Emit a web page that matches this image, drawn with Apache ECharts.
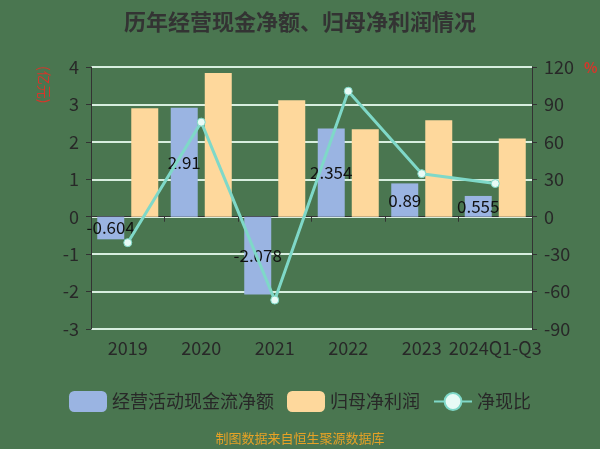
<!DOCTYPE html>
<html>
<head>
<meta charset="utf-8">
<script src="https://cdn.jsdelivr.net/npm/echarts@6/dist/echarts.min.js"></script>
<style>
html, body { margin: 0; padding: 0; background: #4a7650; }
#chart { width: 600px; height: 449px; }
</style>
</head>
<body>
<div id="chart"></div>
<script>
// 数据
var years = ['2019', '2020', '2021', '2022', '2023', '2024Q1-Q3'];
var cashFlow = [-0.604, 2.91, -2.078, 2.354, 0.89, 0.555];   // 经营活动现金流净额(亿元)
var netProfit = [2.90, 3.84, 3.11, 2.34, 2.58, 2.09];         // 归母净利润(亿元)
var ratio = [-20.8, 75.8, -66.8, 100.6, 34.5, 26.6];          // 净现比(%)

var font = '"Noto Sans CJK SC", "Noto Sans", sans-serif';
var dark = '#282828';
var chart = echarts.init(document.getElementById('chart'));

var option = {
	backgroundColor: '#4a7650',
	title: {
		text: '历年经营现金净额、归母净利润情况',
		left: 'center',
		top: 6,
		textStyle: { color: '#333', fontSize: 22, fontWeight: 'bold', fontFamily: font }
	},
	legend: {
		bottom: 32,
		left: 'center',
		itemWidth: 38,
		itemHeight: 21,
		itemGap: 13,
		textStyle: { color: dark, fontSize: 18, fontFamily: font },
		data: [
			{ name: '经营活动现金流净额', icon: 'roundRect' },
			{ name: '归母净利润', icon: 'roundRect' },
			{ name: '净现比' }
		]
	},
	grid: { left: 91, right: 68, top: 67, bottom: 120 },
	xAxis: {
		type: 'category',
		data: years,
		axisLine: { onZero: true, lineStyle: { color: '#333', width: 1 } },
		axisTick: { show: true, length: 5, lineStyle: { color: '#333' } },
		axisLabel: { interval: 0, margin: 10, color: dark, fontSize: 18, fontFamily: font }
	},
	yAxis: [{
		type: 'value',
		min: -3, max: 4, interval: 1,
		axisLine: { show: true, lineStyle: { color: '#333' } },
		axisTick: { show: true, length: 5, lineStyle: { color: '#333' } },
		axisLabel: { margin: 12, color: dark, fontSize: 18, fontFamily: font },
		splitLine: { lineStyle: { color: '#d8eedf', width: 2 } }
	}, {
		type: 'value',
		min: -90, max: 120, interval: 30,
		axisLine: { show: true, lineStyle: { color: '#333' } },
		axisTick: { show: true, length: 5, lineStyle: { color: '#333' } },
		axisLabel: { margin: 12, color: dark, fontSize: 18, fontFamily: font },
		splitLine: { show: false }
	}],
	graphic: [{
		type: 'text',
		left: 37,
		top: 66,
		rotation: -Math.PI / 2,
		style: { text: '(亿元)', fill: '#d8352a', font: '14px ' + font }
	}, {
		type: 'text',
		left: 584,
		top: 61,
		style: { text: '%', fill: '#d8352a', font: 'bold 14px ' + font }
	}, {
		type: 'text',
		left: 'center',
		top: 432,
		style: { text: '制图数据来自恒生聚源数据库', fill: '#e6a226', font: '13px ' + font }
	}],
	series: [{
		name: '经营活动现金流净额',
		type: 'bar',
		data: cashFlow,
		barWidth: 27,
		barGap: '26%',
		itemStyle: { color: '#9ab4e2' },
		label: {
			show: true,
			position: 'inside',
			color: '#111',
			fontSize: 17,
			fontFamily: font
		}
	}, {
		name: '归母净利润',
		type: 'bar',
		data: netProfit,
		barWidth: 27,
		itemStyle: { color: '#fed89c' }
	}, {
		name: '净现比',
		type: 'line',
		yAxisIndex: 1,
		data: ratio,
		symbol: 'circle',
		symbolSize: 8,
		lineStyle: { color: '#7fd8c8', width: 3 },
		itemStyle: { color: '#e8fbf6', borderColor: '#7fd8c8', borderWidth: 1 },
		z: 5
	}]
};
chart.setOption(option);
</script>
</body>
</html>
